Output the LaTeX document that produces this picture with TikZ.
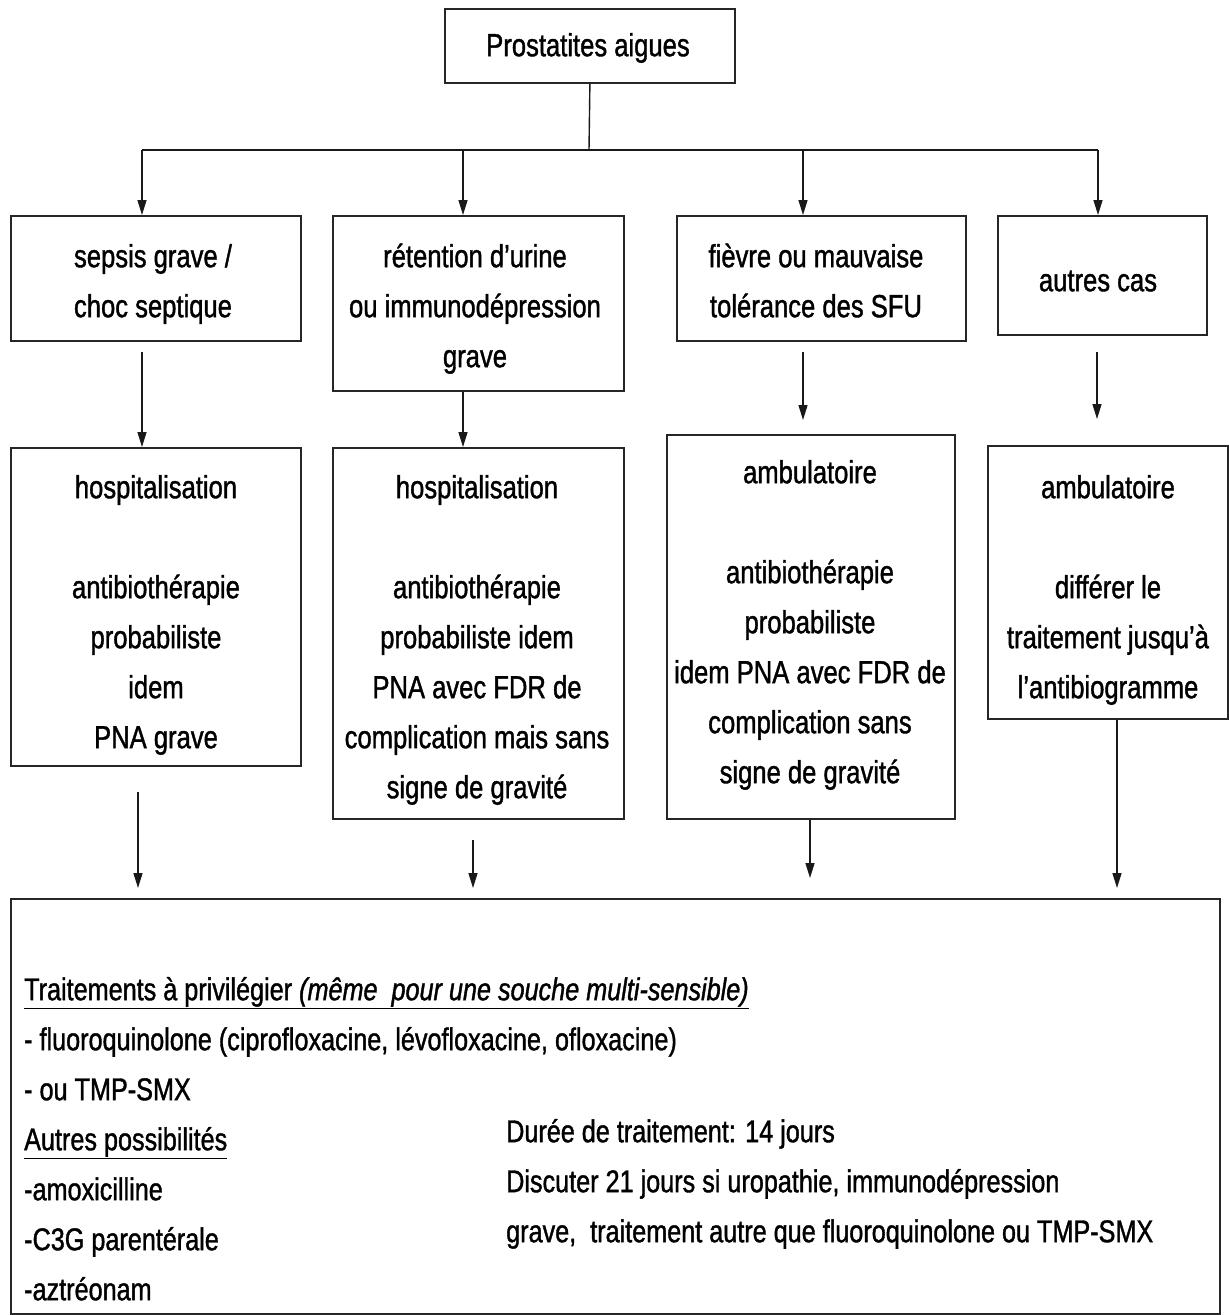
\documentclass[tikz,border=0pt]{standalone}
\usepackage{fontspec}
\setmainfont[FakeStretch=0.8,FakeBold=1.2]{Liberation Sans}
\usetikzlibrary{arrows.meta}
\begin{document}
\begin{tikzpicture}[x=1pt,y=-1pt,
  box/.style={draw=black!85, line width=1.8pt, inner sep=0pt, anchor=north west},
  txt/.style={align=center, inner sep=0pt, anchor=north, font=\fontsize{32}{50}\selectfont},
  ltxt/.style={align=left, inner sep=0pt, anchor=north west, font=\fontsize{31.5}{50}\selectfont},
  conn/.style={line width=1.4pt, black!90},
  arr/.style={conn, -{Triangle[length=15pt,width=9pt]}}]
\useasboundingbox[fill=white] (0,0) rectangle (1229,1315);
% boxes
\node[box, minimum width=290pt, minimum height=74pt] (top) at (444,8) {};
\node[box, minimum width=290pt, minimum height=125pt] (a1) at (10,215) {};
\node[box, minimum width=291pt, minimum height=175pt] (b1) at (332,215) {};
\node[box, minimum width=289pt, minimum height=125pt] (c1) at (676,215) {};
\node[box, minimum width=209pt, minimum height=119pt] (d1) at (997,215) {};
\node[box, minimum width=290pt, minimum height=318pt] (a2) at (10,447) {};
\node[box, minimum width=291pt, minimum height=371pt] (b2) at (332,447) {};
\node[box, minimum width=288pt, minimum height=384pt] (c2) at (666,434) {};
\node[box, minimum width=240pt, minimum height=273pt] (d2) at (987,445) {};
\node[box, minimum width=1209pt, minimum height=415pt] (bot) at (10,898) {};
% texts
\node[txt] (topt) at (588,21) {\strut Prostatites aigues};
\node[txt] (a1t) at (153,232) {\strut sepsis grave /\\choc septique};
\node[txt] (b1t) at (475,232) {\strut rétention d’urine\\ou immunodépression\\grave};
\node[txt] (c1t) at (816,232) {\strut fièvre ou mauvaise\\tolérance des SFU};
\node[txt] (d1t) at (1098,256) {\strut autres cas};
\node[txt] (a2t) at (156,463) {\strut hospitalisation\\[50pt]antibiothérapie\\probabiliste\\idem\\PNA grave};
\node[txt] (b2t) at (477,463) {\strut hospitalisation\\[50pt]antibiothérapie\\probabiliste idem\\PNA avec FDR de\\complication mais sans\\signe de gravité};
\node[txt] (c2t) at (810,448) {\strut ambulatoire\\[50pt]antibiothérapie\\probabiliste\\idem PNA avec FDR de\\complication sans\\signe de gravité};
\node[txt] (d2t) at (1108,463) {\strut ambulatoire\\[50pt]différer le\\traitement jusqu’à\\l’antibiogramme};
\node[ltxt] (bl) at (24,965) {\strut\underline{Traitements à privilégier \textit{(même\ \ pour une souche multi-sensible)}}\\
- fluoroquinolone (ciprofloxacine, lévofloxacine, ofloxacine)\\
- ou TMP-SMX\\
\underline{Autres possibilités}\\
-amoxicilline\\
-C3G parentérale\\
-aztréonam};
\node[ltxt] (br) at (506,1107) {\strut Durée de traitement: 14 jours\\
Discuter 21 jours si uropathie, immunodépression\\
grave,\ \ traitement autre que fluoroquinolone ou TMP-SMX};
% bus
\coordinate (bus) at (589,150);
\coordinate (xa) at (142,150);
\coordinate (xb) at (463,150);
\coordinate (xc) at (803,150);
\coordinate (xd) at (1098,150);
\draw[conn] (top.south) -- (bus);
\draw[conn] (xa) -- (xd);
\draw[arr] (xa) -- (xa |- a1.north);
\draw[arr] (xb) -- (xb |- b1.north);
\draw[arr] (xc) -- (xc |- c1.north);
\draw[arr] (xd) -- (xd |- d1.north);
% row1 -> row2
\coordinate (ya) at (142,0);
\coordinate (yb) at (463,0);
\coordinate (yc) at (803,0);
\coordinate (yd) at (1097,0);
\draw[arr, shorten <=10pt] (a1.south -| ya) -- (a2.north -| ya);
\draw[arr] (b1.south -| yb) -- (b2.north -| yb);
\draw[arr, shorten <=10pt, shorten >=14pt] (c1.south -| yc) -- (c2.north -| yc);
\draw[arr, shorten <=16pt, shorten >=26pt] (d1.south -| yd) -- (d2.north -| yd);
% row2 -> bottom
\coordinate (za) at (138,0);
\coordinate (zb) at (473,0);
\coordinate (zc) at (810,0);
\coordinate (zd) at (1117,0);
\draw[arr, shorten <=25pt, shorten >=10pt] (a2.south -| za) -- (bot.north -| za);
\draw[arr, shorten <=20pt, shorten >=10pt] (b2.south -| zb) -- (bot.north -| zb);
\draw[arr, shorten >=20pt] (c2.south -| zc) -- (bot.north -| zc);
\draw[arr, shorten >=10pt] (d2.south -| zd) -- (bot.north -| zd);
\end{tikzpicture}
\end{document}
